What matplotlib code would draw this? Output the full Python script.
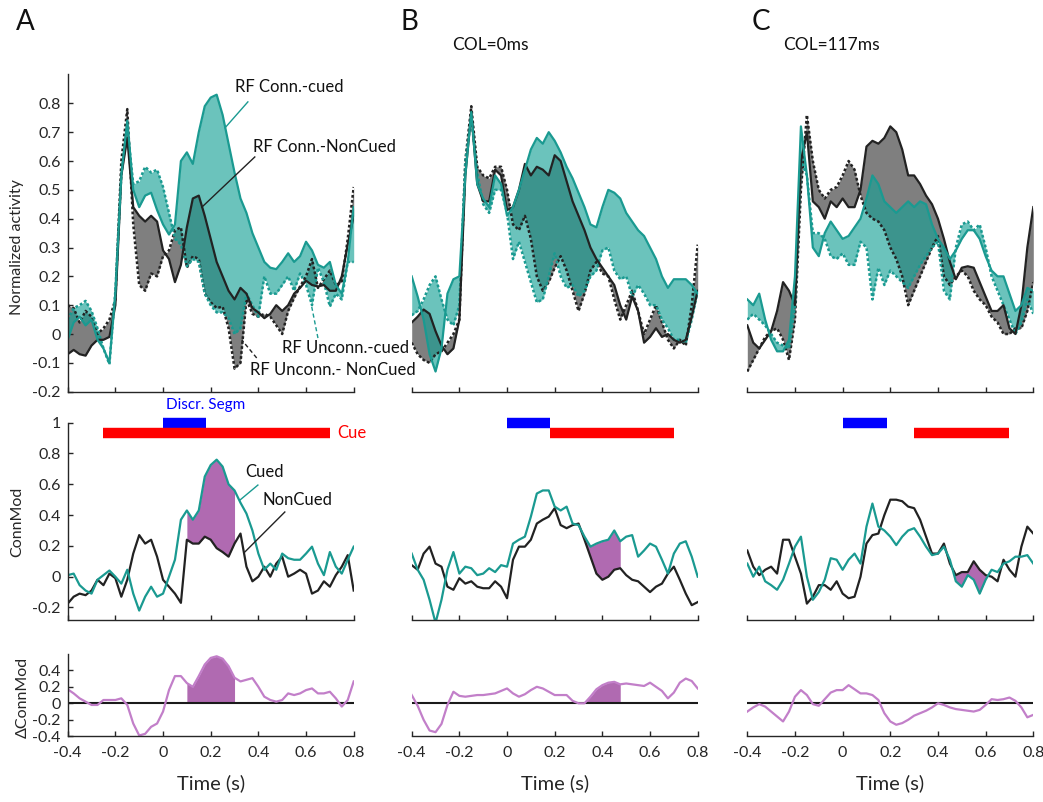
import numpy as np
import matplotlib
matplotlib.use('Agg')
import matplotlib.pyplot as plt

plt.rcParams['font.family'] = ['Lato', 'DejaVu Sans']

# common time axis (s)
t = np.round(np.arange(-0.4, 0.8001, 0.025), 3)

# ---- top row: normalized activity (ts = RF Conn.-cued, td = RF Unconn.-cued,
#      bs = RF Conn.-NonCued, bd = RF Unconn.-NonCued)
a_ts = [-0.02, 0.04, 0.06, 0.03, 0.05, -0.02, -0.05, -0.1, 0.14, 0.55, 0.74, 0.5, 0.44, 0.48, 0.49, 0.43, 0.38,
        0.345, 0.38, 0.6, 0.63, 0.59, 0.7, 0.79, 0.82, 0.83, 0.76, 0.66, 0.56, 0.47, 0.42, 0.35, 0.3, 0.25, 0.23,
        0.225, 0.25, 0.28, 0.25, 0.27, 0.32, 0.29, 0.24, 0.23, 0.25, 0.17, 0.14, 0.25, 0.44]
a_td = [0.05, 0.09, 0.1, 0.115, 0.08, 0.02, -0.05, -0.105, 0.15, 0.55, 0.72, 0.52, 0.53, 0.58, 0.56, 0.57, 0.51,
        0.42, 0.33, 0.31, 0.235, 0.26, 0.25, 0.14, 0.1, 0.075, 0.075, 0.055, 0.0, 0.02, 0.14, 0.1, 0.06, 0.2, 0.14,
        0.14, 0.17, 0.2, 0.15, 0.21, 0.17, 0.1, 0.23, 0.18, 0.095, 0.14, 0.12, 0.25, 0.25]
a_bs = [-0.07, -0.055, -0.07, -0.075, -0.04, -0.02, -0.02, -0.01, 0.1, 0.55, 0.68, 0.44, 0.41, 0.39, 0.41, 0.39, 0.29,
        0.26, 0.18, 0.24, 0.37, 0.47, 0.48, 0.41, 0.33, 0.25, 0.2, 0.15, 0.12, 0.16, 0.14, 0.09, 0.075, 0.055, 0.07,
        0.1, 0.08, 0.1, 0.14, 0.16, 0.185, 0.17, 0.165, 0.17, 0.15, 0.15, 0.2, 0.31, 0.41]
a_bd = [0.1, 0.09, 0.04, 0.08, 0.06, 0.0, 0.02, 0.05, 0.12, 0.6, 0.78, 0.38, 0.17, 0.15, 0.21, 0.2, 0.27, 0.29, 0.36,
        0.37, 0.23, 0.27, 0.26, 0.14, 0.11, 0.09, 0.095, 0.02, -0.12, -0.1, 0.12, 0.07, 0.06, 0.07, 0.06, 0.03, 0.0,
        0.08, 0.125, 0.165, 0.2, 0.26, 0.16, 0.19, 0.22, 0.17, 0.18, 0.33, 0.51]

b_ts = [0.2, 0.13, 0.05, -0.07, -0.13, -0.05, 0.14, 0.19, 0.2, 0.55, 0.77, 0.52, 0.47, 0.44, 0.55, 0.52, 0.41, 0.44,
        0.5, 0.57, 0.64, 0.68, 0.66, 0.7, 0.67, 0.63, 0.58, 0.54, 0.49, 0.44, 0.38, 0.37, 0.44, 0.5, 0.49, 0.47, 0.42,
        0.39, 0.36, 0.34, 0.3, 0.26, 0.2, 0.16, 0.19, 0.19, 0.19, 0.17, 0.14]
b_td = [0.065, 0.08, 0.12, 0.17, 0.2, 0.12, 0.05, 0.03, 0.1, 0.6, 0.75, 0.56, 0.45, 0.42, 0.5, 0.5, 0.42, 0.26, 0.32,
        0.25, 0.18, 0.11, 0.12, 0.2, 0.28, 0.2, 0.16, 0.17, 0.13, 0.15, 0.2, 0.22, 0.29, 0.3, 0.22, 0.19, 0.2, 0.13,
        0.17, 0.14, 0.1, 0.1, 0.05, 0.02, -0.02, -0.02, -0.03, 0.05, 0.15]
b_bs = [0.04, 0.06, 0.085, 0.07, 0.01, -0.04, -0.07, -0.05, 0.05, 0.55, 0.77, 0.52, 0.46, 0.46, 0.57, 0.55, 0.43,
        0.44, 0.5, 0.59, 0.55, 0.58, 0.57, 0.55, 0.62, 0.6, 0.53, 0.46, 0.41, 0.36, 0.3, 0.26, 0.23, 0.2, 0.17, 0.1,
        0.05, 0.13, 0.08, -0.03, -0.01, 0.02, -0.01, 0.0, -0.02, -0.03, -0.02, 0.06, 0.15]
b_bd = [-0.03, -0.07, -0.09, -0.1, -0.07, -0.06, -0.03, 0.0, 0.05, 0.6, 0.79, 0.58, 0.55, 0.54, 0.58, 0.58, 0.5,
        0.38, 0.36, 0.41, 0.33, 0.2, 0.15, 0.18, 0.23, 0.27, 0.22, 0.15, 0.08, 0.14, 0.22, 0.25, 0.21, 0.2, 0.12,
        0.05, 0.1, 0.15, 0.08, 0.0, 0.05, 0.1, 0.04, -0.02, -0.05, -0.02, -0.04, 0.1, 0.31]

c_ts = [0.12, 0.1, 0.14, 0.05, -0.02, -0.06, -0.06, -0.02, 0.2, 0.72, 0.55, 0.3, 0.27, 0.35, 0.39, 0.36, 0.33, 0.34,
        0.37, 0.4, 0.47, 0.55, 0.52, 0.46, 0.44, 0.42, 0.44, 0.46, 0.44, 0.46, 0.45, 0.38, 0.33, 0.3, 0.26, 0.29,
        0.33, 0.36, 0.36, 0.33, 0.27, 0.22, 0.2, 0.2, 0.14, 0.08, 0.1, 0.16, 0.15]
c_td = [0.05, 0.07, 0.05, 0.03, 0.0, -0.03, -0.04, -0.05, 0.1, 0.6, 0.55, 0.35, 0.35, 0.33, 0.27, 0.26, 0.28, 0.24,
        0.24, 0.32, 0.3, 0.12, 0.23, 0.17, 0.22, 0.2, 0.18, 0.16, 0.2, 0.24, 0.27, 0.3, 0.32, 0.15, 0.12, 0.3, 0.38,
        0.39, 0.36, 0.38, 0.3, 0.2, 0.15, 0.1, 0.05, 0.0, 0.04, 0.12, 0.07]
c_bs = [0.03, -0.03, -0.05, -0.02, 0.01, 0.08, 0.18, 0.15, 0.1, 0.6, 0.7, 0.46, 0.44, 0.4, 0.46, 0.44, 0.47, 0.44,
        0.44, 0.5, 0.65, 0.67, 0.66, 0.68, 0.72, 0.7, 0.64, 0.55, 0.55, 0.52, 0.48, 0.45, 0.4, 0.33, 0.25, 0.19,
        0.23, 0.235, 0.23, 0.18, 0.13, 0.08, 0.08, 0.1, 0.02, 0.0, 0.1, 0.3, 0.44]
c_bd = [-0.13, -0.09, -0.05, -0.01, 0.01, 0.02, -0.02, -0.09, 0.05, 0.5, 0.76, 0.6, 0.5, 0.47, 0.5, 0.51, 0.55, 0.6,
        0.57, 0.48, 0.42, 0.4, 0.39, 0.36, 0.3, 0.26, 0.2, 0.1, 0.15, 0.2, 0.25, 0.3, 0.34, 0.2, 0.17, 0.2, 0.22,
        0.2, 0.15, 0.12, 0.1, 0.06, 0.04, 0.0, 0.0, 0.02, 0.02, 0.08, 0.18]

# ---- middle row: ConnMod (cued / noncued)
a_cued = [0.01, 0.02, -0.055, -0.09, -0.11, -0.02, 0.01, 0.04, 0.0, -0.045, 0.045, -0.11, -0.22, -0.13, -0.065,
          -0.13, -0.11, 0.0, 0.11, 0.37, 0.43, 0.37, 0.43, 0.65, 0.725, 0.76, 0.715, 0.6, 0.56, 0.48, 0.41, 0.3,
          0.15, 0.045, 0.085, 0.045, 0.15, 0.12, 0.11, 0.11, 0.15, 0.195, 0.085, 0.01, 0.16, 0.065, 0.02, 0.11, 0.195]
a_noncued = [-0.175, -0.13, -0.11, -0.12, -0.09, -0.02, -0.055, 0.02, -0.01, -0.13, -0.02, 0.15, 0.27, 0.215, 0.24,
             0.13, -0.02, -0.065, -0.11, -0.17, 0.24, 0.215, 0.215, 0.26, 0.24, 0.185, 0.16, 0.13, 0.215, 0.28,
             0.065, -0.03, 0.0, 0.065, 0.0, 0.085, 0.13, 0.0, 0.02, 0.045, 0.02, -0.11, -0.09, -0.03, -0.065, 0.01,
             0.065, 0.14, -0.09]
b_cued = [0.15, 0.045, -0.02, -0.15, -0.3, -0.15, 0.045, 0.16, 0.02, 0.065, 0.055, 0.01, 0.02, 0.055, 0.03, 0.075,
          0.065, 0.215, 0.24, 0.26, 0.39, 0.54, 0.56, 0.56, 0.455, 0.43, 0.455, 0.345, 0.335, 0.26, 0.195, 0.215,
          0.23, 0.24, 0.3, 0.23, 0.26, 0.27, 0.13, 0.17, 0.215, 0.195, 0.11, 0.02, 0.15, 0.215, 0.23, 0.13, 0.0]
b_noncued = [0.075, 0.045, 0.15, 0.195, 0.085, 0.065, -0.065, -0.085, -0.01, -0.045, -0.03, -0.065, -0.075, -0.075,
             -0.03, -0.065, -0.14, 0.11, 0.195, 0.195, 0.24, 0.345, 0.37, 0.39, 0.445, 0.335, 0.315, 0.335, 0.345,
             0.24, 0.13, 0.02, -0.02, 0.0, 0.045, 0.055, 0.01, -0.02, -0.03, -0.065, -0.1, -0.065, -0.045, 0.02,
             0.065, -0.02, -0.11, -0.185, -0.165]
c_cued = [0.085, 0.0, 0.065, -0.03, -0.055, -0.085, -0.02, 0.085, 0.195, 0.26, 0.0, -0.15, -0.1, -0.02, 0.12, 0.11,
          0.045, 0.11, 0.15, 0.085, 0.325, 0.475, 0.325, 0.3, 0.26, 0.205, 0.26, 0.3, 0.315, 0.26, 0.195, 0.14, 0.15,
          0.195, 0.11, -0.03, -0.065, 0.01, -0.02, -0.11, -0.02, 0.045, 0.03, 0.085, 0.1, 0.13, 0.13, 0.14, 0.085]
c_noncued = [0.17, 0.065, 0.01, 0.045, 0.065, 0.02, 0.24, 0.24, 0.13, 0.02, -0.175, -0.13, -0.055, -0.055, -0.085,
             -0.03, -0.11, -0.14, -0.13, 0.0, 0.215, 0.27, 0.28, 0.4, 0.5, 0.5, 0.49, 0.455, 0.445, 0.37, 0.26, 0.15,
             0.15, 0.215, 0.085, 0.01, 0.03, 0.03, 0.1, 0.045, 0.01, 0.0, -0.03, 0.11, 0.045, 0.0, 0.195, 0.325, 0.28]

# ---- bottom row: delta ConnMod
a_delta = [0.17, 0.12, 0.06, 0.02, -0.02, -0.02, 0.04, 0.04, 0.04, 0.06, -0.02, -0.245, -0.39, -0.37, -0.285, -0.245,
           -0.1, 0.16, 0.33, 0.33, 0.245, 0.2, 0.33, 0.47, 0.55, 0.57, 0.54, 0.45, 0.31, 0.265, 0.285, 0.305, 0.2,
           0.08, 0.04, 0.02, 0.04, 0.12, 0.1, 0.12, 0.16, 0.18, 0.12, 0.12, 0.14, 0.06, -0.04, 0.04, 0.265]
b_delta = [0.1, -0.03, -0.2, -0.33, -0.35, -0.25, -0.02, 0.14, 0.09, 0.08, 0.09, 0.1, 0.1, 0.11, 0.12, 0.15, 0.18,
           0.12, 0.08, 0.11, 0.16, 0.2, 0.18, 0.14, 0.1, 0.1, 0.1, 0.03, 0.0, 0.0, 0.08, 0.17, 0.22, 0.25, 0.26, 0.23,
           0.24, 0.23, 0.22, 0.21, 0.25, 0.2, 0.15, 0.06, 0.13, 0.25, 0.3, 0.27, 0.18]
c_delta = [-0.1, -0.05, -0.01, -0.04, -0.1, -0.16, -0.22, -0.1, 0.08, 0.16, 0.1, -0.01, -0.03, 0.05, 0.13, 0.16,
           0.16, 0.22, 0.17, 0.12, 0.12, 0.1, 0.04, -0.12, -0.22, -0.26, -0.24, -0.2, -0.15, -0.12, -0.09, -0.05,
           0.0, -0.02, -0.05, -0.07, -0.08, -0.09, -0.1, -0.08, -0.02, 0.05, 0.04, 0.05, 0.07, 0.03, -0.05, -0.17,
           -0.14]

# significant windows (s)
sig_win = [(0.1, 0.3), (0.325, 0.475), (0.425, 0.6)]
delta_fill = [True, True, False]
# task epochs (s)
discr = [(0.0, 0.18), (0.0, 0.18), (0.0, 0.185)]
cue = [(-0.25, 0.7), (0.18, 0.7), (0.3, 0.7)]

xtick_vals = [-0.4, -0.2, 0, 0.2, 0.4, 0.6, 0.8]
xtick_txt = ['-0.4', '-0.2', '0', '0.2', '0.4', '0.6', '0.8']

TEAL = '#1a9a91'
BLACK = '#222222'
PURPLE_LINE = '#c27fc9'
PURPLE_FILL = '#b06ab1'
AXC = '#262626'

W, H = 1043, 802
fig = plt.figure(figsize=(W / 100, H / 100), dpi=100)


def add_ax(left, top, w, h):
    return fig.add_axes([left / W, 1 - (top + h) / H, w / W, h / H])


def style(ax, show_left, show_xlabels):
    for s in ['top', 'right']:
        ax.spines[s].set_visible(False)
    ax.spines['left'].set_visible(show_left)
    for s in ['left', 'bottom']:
        ax.spines[s].set_color(AXC)
        ax.spines[s].set_linewidth(1.0)
    ax.tick_params(direction='in', length=3.5, width=1, colors=AXC, labelsize=11.5)
    ax.tick_params(axis='x', pad=7)
    ax.tick_params(axis='y', pad=5)
    ax.set_xlim(-0.4, 0.8)
    ax.set_xticks(xtick_vals)
    if show_xlabels:
        ax.set_xticklabels(xtick_txt)
    else:
        ax.set_xticklabels([])
    if not show_left:
        ax.set_yticks([])
    ax.patch.set_alpha(0)


lefts = [67.7, 411.7, 747.3]
axw = 286.0
dotted = (0, (1.1, 0.9))

tops = [(a_ts, a_td, a_bs, a_bd), (b_ts, b_td, b_bs, b_bd), (c_ts, c_td, c_bs, c_bd)]
mids = [(a_cued, a_noncued), (b_cued, b_noncued), (c_cued, c_noncued)]
deltas = [a_delta, b_delta, c_delta]

for i in range(3):
    # top row
    ax = add_ax(lefts[i], 74.5, axw, 317.2)
    ts, td, bs, bd = tops[i]
    ax.fill_between(t, bs, bd, color='#7f7f7f', lw=0)
    ax.fill_between(t, ts, td, color='#15a196', alpha=0.63, lw=0)
    ax.plot(t, bd, linestyle=dotted, color=BLACK, lw=1.8)
    ax.plot(t, td, linestyle=dotted, color=TEAL, lw=1.8)
    ax.plot(t, bs, '-', color=BLACK, lw=1.6)
    ax.plot(t, ts, '-', color=TEAL, lw=1.6)
    ax.set_ylim(-0.2, 0.9)
    style(ax, i == 0, False)
    if i == 0:
        yt = np.round(np.arange(-0.2, 0.81, 0.1), 1)
        ax.set_yticks(yt)
        ax.set_yticklabels(['0' if v == 0 else f'{v:g}' for v in yt])
        ax.text(0.3, 0.857, 'RF Conn.-cued', fontsize=12, va='center', color='#111111')
        ax.plot([0.356, 0.26], [0.805, 0.715], color=TEAL, lw=1)
        ax.text(0.377, 0.65, 'RF Conn.-NonCued', fontsize=12, va='center', color='#111111')
        ax.plot([0.385, 0.163], [0.614, 0.44], color=BLACK, lw=1)
        ax.text(0.499, -0.049, 'RF Unconn.-cued', fontsize=12, va='center', color='#111111')
        ax.plot([0.65, 0.624], [-0.014, 0.094], color=TEAL, lw=1, ls=(0, (3, 2)))
        ax.text(0.364, -0.125, 'RF Unconn.- NonCued', fontsize=12, va='center', color='#111111')
        ax.plot([0.393, 0.33], [-0.083, -0.02], color=BLACK, lw=1, ls=(0, (3, 2)))

    # middle row
    ax = add_ax(lefts[i], 422.7, axw, 197.1)
    cued, noncued = mids[i]
    w0, w1 = sig_win[i]
    mask = (t >= w0 - 1e-9) & (t <= w1 + 1e-9)
    ax.fill_between(t, cued, noncued, where=mask, color=PURPLE_FILL, lw=0)
    ax.plot(t, noncued, color=BLACK, lw=1.6)
    ax.plot(t, cued, color=TEAL, lw=1.6)
    ax.hlines(1.0, discr[i][0], discr[i][1], color='#0000ff', lw=7.5, clip_on=False)
    ax.hlines(0.933, cue[i][0], cue[i][1], color='#ff0000', lw=7.5, clip_on=False)
    ax.set_ylim(-0.28, 1.0)
    style(ax, i == 0, False)
    if i == 0:
        ax.set_yticks([-0.2, 0, 0.2, 0.4, 0.6, 0.8, 1])
        ax.set_yticklabels(['-0.2', '0', '0.2', '0.4', '0.6', '0.8', '1'])
        ax.text(0.18, 1.115, 'Discr. Segm', color='#0000ff', fontsize=11, ha='center', va='center')
        ax.text(0.733, 0.93, 'Cue', color='#ff0000', fontsize=12, va='center')
        ax.text(0.344, 0.68, 'Cued', fontsize=12, va='center', color='#111111')
        ax.plot([0.398, 0.323], [0.595, 0.498], color=TEAL, lw=1)
        ax.text(0.419, 0.498, 'NonCued', fontsize=12, va='center', color='#111111')
        ax.plot([0.511, 0.343], [0.42, 0.16], color=BLACK, lw=1)

    # bottom row
    ax = add_ax(lefts[i], 653.8, axw, 82.5)
    d = deltas[i]
    if delta_fill[i]:
        ax.fill_between(t, d, 0, where=mask, color=PURPLE_FILL, lw=0)
    ax.axhline(0, color='#1a1a1a', lw=1.5)
    ax.plot(t, d, color=PURPLE_LINE, lw=1.6)
    ax.set_ylim(-0.4, 0.6)
    style(ax, i == 0, True)
    if i == 0:
        ax.set_yticks([-0.4, -0.2, 0, 0.2, 0.4])
        ax.set_yticklabels(['-0.4', '-0.2', '0', '0.2', '0.4'])
    ax.set_xlabel('Time (s)', fontsize=14.5, labelpad=10, color=AXC)

# y labels
fig.text(17 / W, 1 - 247 / H, 'Normalized activity', rotation=90, ha='center', va='center', fontsize=11.5, color=AXC)
fig.text(17 / W, 1 - 522 / H, 'ConnMod', rotation=90, ha='center', va='center', fontsize=11.5, color=AXC)
fig.text(23 / W, 1 - 697 / H, 'ΔConnMod', rotation=90, ha='center', va='center', fontsize=11.5, color=AXC)

# panel letters and titles
for lab, x in zip(['A', 'B', 'C'], [25, 409, 761]):
    fig.text(x / W, 1 - 22 / H, lab, ha='center', va='center', fontsize=20, color='#111111')
fig.text(490 / W, 1 - 45 / H, 'COL=0ms', ha='center', va='center', fontsize=12.5, color='#111111')
fig.text(831 / W, 1 - 45 / H, 'COL=117ms', ha='center', va='center', fontsize=12.5, color='#111111')

fig.savefig('out.png', dpi=100)
